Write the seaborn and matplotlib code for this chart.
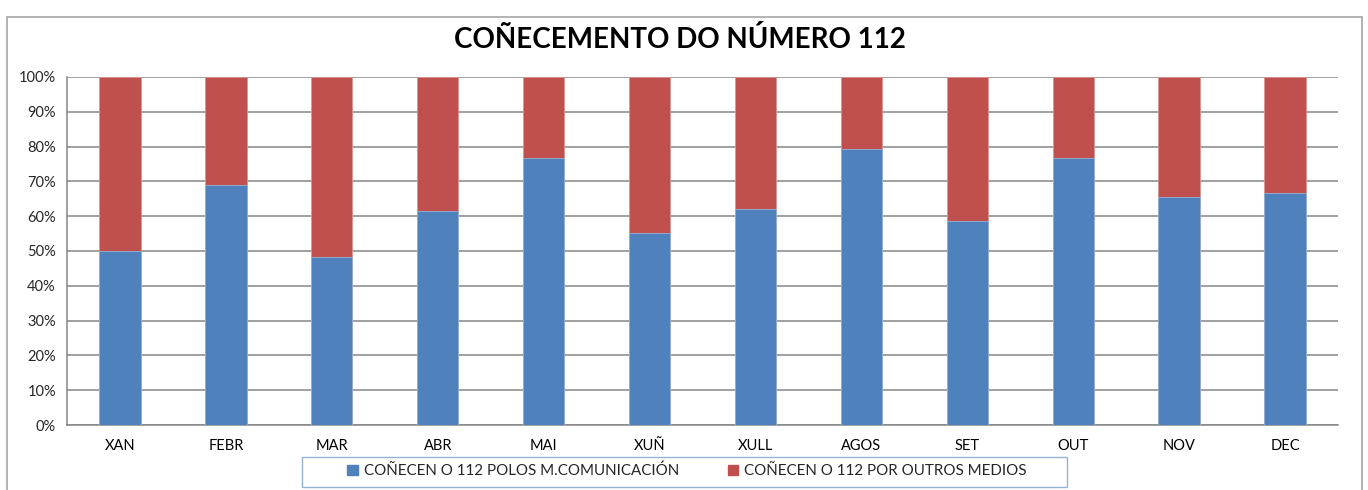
import numpy as np
import pandas as pd
import matplotlib.pyplot as plt
import seaborn as sns
from matplotlib.patches import Rectangle, Patch
from matplotlib.ticker import FuncFormatter, FixedLocator

meses = ["XAN", "FEBR", "MAR", "ABR", "MAI", "XUÑ", "XULL", "AGOS", "SET", "OUT", "NOV", "DEC"]
polos_mcom = [50.0, 69.0, 48.3, 61.4, 76.6, 55.1, 62.1, 79.2, 58.6, 76.6, 65.4, 66.7]
outros_medios = [100 - v for v in polos_mcom]

df = pd.DataFrame({"Mes": meses, "MCom": polos_mcom, "Outros": outros_medios})
df["Total"] = df["MCom"] + df["Outros"]

azul = "#4f81bd"
vermello = "#c0504d"
gris = "#868686"

sns.set_style("white")
plt.rcParams["font.family"] = ["Lato", "DejaVu Sans"]

W, H = 1368, 490
fig = plt.figure(figsize=(W / 100, H / 100), dpi=100)
ax = fig.add_axes([67 / W, 65 / H, 1271 / W, 348 / H])

# outer chart frame
fig.patches.append(Rectangle((7 / W, -0.01), 1355 / W, 473 / H + 0.01,
                             transform=fig.transFigure, fill=False,
                             edgecolor="#a6a6a6", linewidth=1.2))

sns.barplot(data=df, x="Mes", y="Total", color=vermello, width=0.39,
            saturation=1, edgecolor="#d99694", linewidth=0.6, ax=ax, zorder=3)
sns.barplot(data=df, x="Mes", y="MCom", color=azul, width=0.39,
            saturation=1, edgecolor="#95b3d7", linewidth=0.6, ax=ax, zorder=4)

ax.set_xlim(-0.5, len(meses) - 0.5)
ax.set_ylim(0, 100)
ax.set_yticks(np.arange(0, 101, 10))
ax.yaxis.set_major_formatter(FuncFormatter(lambda v, p: f"{v:.0f}%"))
ax.yaxis.grid(True, color=gris, linewidth=1.1, zorder=0)
ax.set_axisbelow(True)
ax.set_xlabel("")
ax.set_ylabel("")

ax.xaxis.set_minor_locator(FixedLocator(np.arange(-0.5, len(meses), 1)))
ax.tick_params(axis="x", which="major", length=0, pad=10, labelsize=10.5, colors="#000000")
ax.tick_params(axis="x", which="minor", length=5, color=gris, direction="out")
ax.tick_params(axis="y", length=5, color=gris, direction="out", labelsize=10.5, pad=3)

for s in ["top", "right"]:
    ax.spines[s].set_visible(False)
for s in ["left", "bottom"]:
    ax.spines[s].set_color(gris)
    ax.spines[s].set_linewidth(1.1)

fig.text(680 / W, 1 - 40 / H, "COÑECEMENTO DO NÚMERO 112", ha="center", va="center",
         fontsize=20, fontweight="bold", color="#000000")

handles = [Patch(color=azul, label="COÑECEN O 112 POLOS M.COMUNICACIÓN"),
           Patch(color=vermello, label="COÑECEN O 112 POR OUTROS MEDIOS")]
fig.legend(handles=handles, loc="center", bbox_to_anchor=(687 / W, 1 - 471 / H),
           ncol=2, frameon=False, fontsize=10.9, handlelength=0.7, handleheight=0.7,
           handletextpad=0.4, columnspacing=3.2)
fig.patches.append(Rectangle((302 / W, 1 - 487 / H), 765 / W, 30 / H,
                             transform=fig.transFigure, fill=False,
                             edgecolor="#95b3d7", linewidth=1.0))

fig.savefig("out.png", dpi=100)
